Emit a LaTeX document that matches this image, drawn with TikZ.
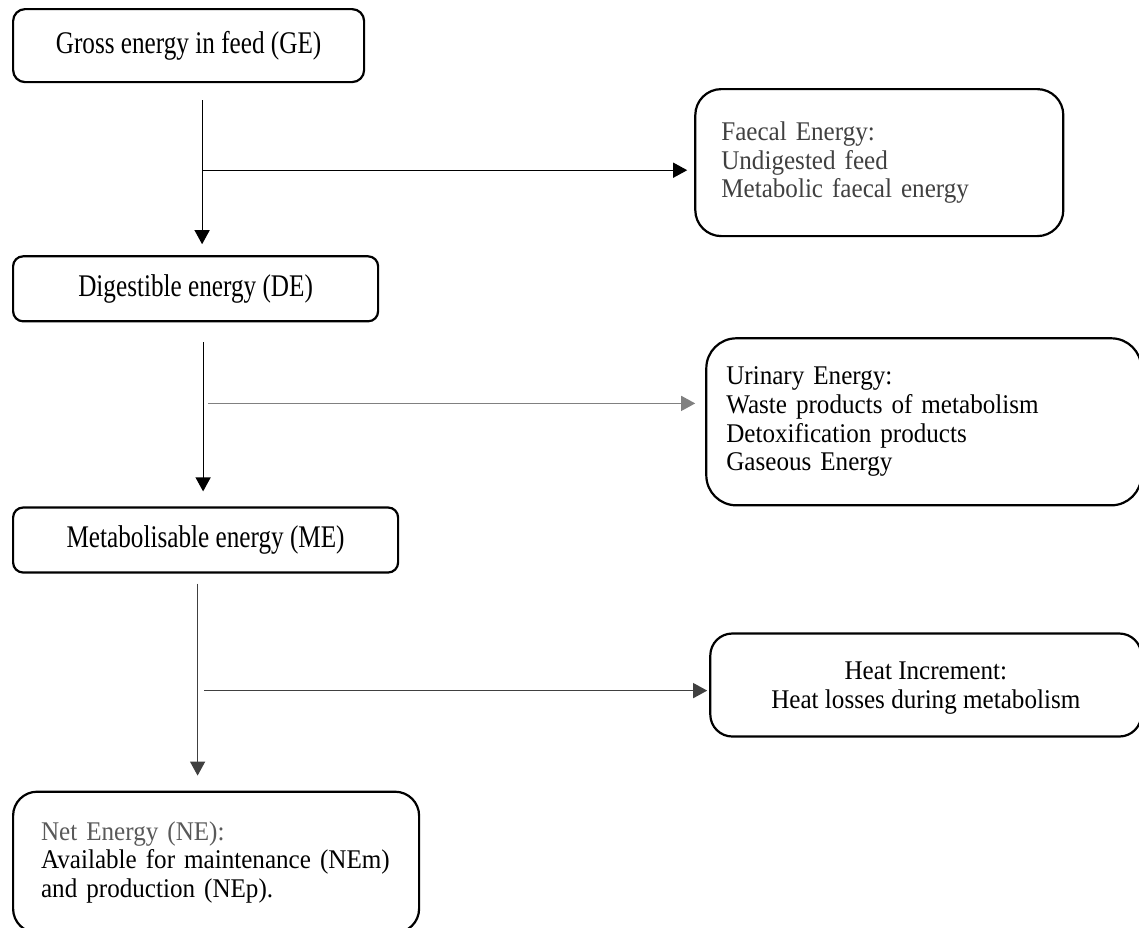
\documentclass[tikz,border=0pt]{standalone}
\usepackage{fontspec}
\setmainfont{Liberation Serif}
\newfontfamily\tallserif[FakeStretch=0.8]{Liberation Serif}
\newfontfamily\sideserif[FakeStretch=0.93]{Liberation Serif}
\newcommand{\boxfont}{\tallserif\fontsize{15.75}{18}\selectfont\spaceskip 3.15pt plus 1.5pt minus 1pt\relax}
\newcommand{\sidefont}{\sideserif\fontsize{13.5}{14.3}\selectfont\spaceskip 3.15pt plus 1.5pt minus 1pt\relax}
\usepackage{xcolor}
\usetikzlibrary{arrows.meta, positioning}

\begin{document}
\begin{tikzpicture}[
        box/.style={rectangle, draw, line width=1.1pt, rounded corners=5pt, align=center, anchor=north west, minimum height=32.5pt, inner sep=0pt, font=\boxfont},
        sidebox/.style={rectangle, draw, line width=1.1pt, rounded corners=13pt, align=left, inner ysep=0pt, font=\sidefont},
        flow/.style={draw, line width=0.6pt, -{Triangle[length=7pt, width=7.5pt]}}
    ]
    \useasboundingbox (0,0) rectangle (569.5pt,-463.5pt);

    % main column
    \node[box, minimum width=175.5pt, minimum height=36.5pt, rounded corners=6pt] (ge) at (6pt,-4pt) {Gross energy in feed (GE)};
    \node[box, minimum width=182.5pt, below right=86pt and 0pt of ge.south west] (de) {Digestible energy (DE)};
    \node[box, minimum width=192.5pt, below right=92pt and 0pt of de.south west] (me) {Metabolisable energy (ME)};
    \node[sidebox, text width=175pt, inner xsep=14pt, minimum height=70.5pt, rounded corners=12pt, below right=108.5pt and 0pt of me.south west] (ne) {\textcolor{black!65}{Net Energy (NE):}\\
        Available for maintenance (NEm)\\
        and production (NEp).};

    % losses
    \node[sidebox, text width=158pt, inner xsep=13pt, minimum height=73.5pt, text=black!75, below right=40pt and 164.5pt of ge.north east] (faecal) {Faecal Energy:\\
        Undigested feed\\
        Metabolic faecal energy};
    \node[sidebox, text width=197.5pt, inner xsep=10pt, minimum height=83.5pt, rounded corners=15pt, below right=41pt and 163pt of de.north east] (urinary) {Urinary Energy:\\
        Waste products of metabolism\\
        Detoxification products\\
        Gaseous Energy};
    \node[sidebox, align=center, minimum width=215.5pt, minimum height=51.5pt, rounded corners=11pt, text depth=0pt, below right=63pt and 155pt of me.north east] (heat) {Heat Increment:\\
        Heat losses during metabolism};

    \coordinate (gebranch) at ([xshift=6.75pt, yshift=-43.5pt]ge.south);
    \coordinate (debranch) at ([xshift=6.25pt, yshift=-40.5pt]de.south);
    \coordinate (mebranch) at ([xshift=-0.75pt, yshift=-58.5pt]me.south);

    \draw[flow, shorten <=8.5pt, shorten >=5.5pt] ([xshift=6.75pt]ge.south) -- ([xshift=6.75pt]ge.south |- de.north);
    \draw[flow, shorten >=3.5pt] (gebranch) -- (gebranch -| faecal.west);

    \draw[flow, shorten <=10pt, shorten >=7.5pt] ([xshift=3.75pt]de.south) -- ([xshift=3.75pt]de.south |- me.north);
    \draw[flow, black!50, shorten >=5pt] (debranch) -- (debranch -| urinary.west);

    \draw[flow, black!75, shorten <=5pt, shorten >=7.5pt] ([xshift=-4pt]me.south) -- ([xshift=-4pt]me.south |- ne.north);
    \draw[flow, black!75, shorten >=1pt] (mebranch) -- (mebranch -| heat.west);

\end{tikzpicture}
\end{document}
